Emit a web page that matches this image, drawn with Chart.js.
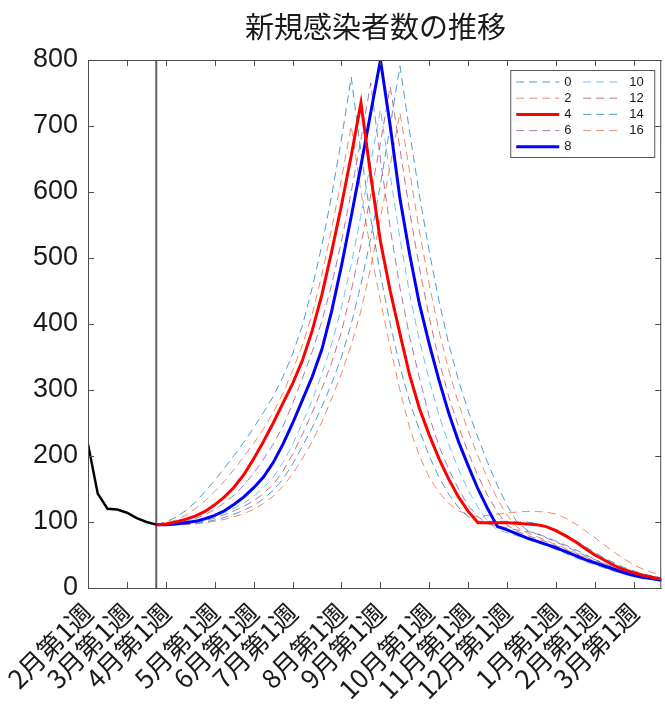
<!DOCTYPE html>
<html lang="ja">
<head>
    <meta charset="UTF-8">
    <title>新規感染者数の推移</title>
    <style>
        body { margin: 0; background: #fff; }
        canvas { display: block; }
    </style>
</head>
<body>
    <canvas id="trendChart" width="665" height="706"></canvas>

    <script src="https://cdn.jsdelivr.net/npm/chart.js"></script>
    <script>
        // ---- data (x = week index from 2月第1週) ----
        const titleText = '新規感染者数の推移';
        const tickWeeks = [0, 4, 8, 13, 17, 21, 26, 30, 35, 39, 43, 48, 52, 56];
        const tickLabels = ['2月第1週', '3月第1週', '4月第1週', '5月第1週', '6月第1週', '7月第1週',
            '8月第1週', '9月第1週', '10月第1週', '11月第1週', '12月第1週', '1月第1週', '2月第1週', '3月第1週'];
        const xMax = 58.8;
        const yMax = 800;

        // observed weeks 0..7
        const observed = [218, 143, 120, 119, 114, 106, 100, 96];
        const markerWeek = 7;

        // projections, weeks 7..59
        const projStart = 7;
        const proj0 = [96, 100, 107, 117, 130, 146, 163, 182, 201, 221, 243, 266, 290, 320, 355, 398, 455, 520, 595, 680, 774,
            660, 560, 475, 400, 335, 282, 239, 200, 168, 142, 122, 108, 101,
            101, 101, 101, 100, 100, 98, 94, 88, 81, 72, 63, 54, 45, 38, 31, 26, 21, 18, 15];
        const proj2 = [96, 98, 103, 110, 120, 132, 146, 162, 180, 199, 219, 241, 266, 295, 330, 368, 415, 475, 545, 620, 700,
            600, 510, 435, 365, 300, 242, 200, 168, 145, 128, 117, 111, 108,
            110, 112, 114, 115, 116, 116, 115, 112, 106, 97, 87, 76, 65, 54, 44, 35, 28, 23, 19];
        const proj4 = [96, 97, 100, 104, 109, 116, 126, 138, 153, 172, 196, 222, 250, 280, 310, 345, 390, 445, 510, 580, 655, 735,
            625, 525, 450, 385, 322, 272, 232, 196, 165, 138, 116, 99,
            99, 99, 99, 98, 97, 96, 93, 87, 79, 70, 60, 50, 42, 34, 28, 23, 19, 16, 13];
        const proj6 = [96, 96, 98, 101, 105, 111, 119, 129, 141, 156, 174, 195, 218, 245, 280, 318, 358, 405, 460, 525, 600, 680, 765,
            650, 545, 455, 380, 318, 260, 215, 180, 150, 125, 108, 97,
            94, 91, 88, 86, 83, 77, 71, 65, 58, 51, 43, 36, 30, 25, 20, 16, 13, 11];
        const proj8 = [96, 96, 97, 99, 101, 105, 110, 117, 127, 138, 152, 168, 190, 218, 250, 285, 320, 362, 420, 488, 563, 640, 720, 800,
            700, 590, 505, 430, 370, 315, 265, 222, 185, 150, 120, 93,
            88, 82, 76, 71, 66, 61, 55, 49, 43, 38, 33, 28, 23, 19, 16, 14, 11];
        const proj10 = [96, 96, 97, 98, 100, 103, 108, 114, 121, 129, 139, 152, 168, 190, 218, 250, 285, 325, 370, 425, 490, 565, 645, 725,
            625, 530, 445, 375, 315, 262, 218, 180, 148, 122, 101, 88,
            84, 79, 74, 69, 64, 58, 52, 46, 40, 35, 30, 25, 21, 17, 14, 12, 10];
        const proj12 = [96, 96, 96, 97, 99, 102, 106, 111, 117, 124, 132, 143, 157, 177, 203, 233, 266, 302, 342, 388, 450, 520, 595, 675, 760,
            665, 570, 485, 410, 345, 290, 245, 205, 170, 140, 115, 95,
            86, 80, 75, 70, 64, 58, 52, 46, 40, 35, 30, 25, 21, 17, 14, 12];
        const proj14 = [96, 96, 96, 97, 98, 100, 103, 107, 112, 118, 125, 135, 148, 165, 188, 215, 243, 275, 310, 350, 400, 460, 530, 612, 700, 791,
            690, 595, 510, 435, 370, 315, 268, 228, 190, 155, 125, 100,
            88, 82, 76, 70, 63, 56, 49, 43, 37, 31, 26, 22, 18, 15, 12];
        const proj16 = [96, 96, 96, 96, 97, 99, 101, 104, 108, 113, 119, 128, 139, 154, 173, 196, 222, 252, 287, 325, 368, 420, 485, 560, 640, 720,
            630, 540, 460, 390, 330, 280, 238, 200, 165, 135, 110, 92,
            84, 78, 72, 66, 60, 53, 47, 41, 35, 30, 25, 21, 17, 14, 12];

        const seriesLabels = ['0', '2', '4', '6', '8', '10', '12', '14', '16'];
        const seriesData = [proj0, proj2, proj4, proj6, proj8, proj10, proj12, proj14, proj16];

        // MATLAB-ish colour order; 4 and 8 are the highlighted solid lines
        const seriesStyle = {
            '0':  { color: 'rgba(0,114,189,0.7)',   width: 1, dash: [8, 5] },
            '2':  { color: 'rgba(217,83,25,0.65)',  width: 1, dash: [8, 5] },
            '4':  { color: '#ff0000',               width: 3, dash: [] },
            '6':  { color: 'rgba(126,47,142,0.65)', width: 1, dash: [8, 5] },
            '8':  { color: '#0000ff',               width: 3, dash: [] },
            '10': { color: 'rgba(77,190,238,0.85)', width: 1, dash: [8, 5] },
            '12': { color: 'rgba(162,20,47,0.6)',   width: 1, dash: [8, 5] },
            '14': { color: 'rgba(0,114,189,0.7)',   width: 1, dash: [8, 5] },
            '16': { color: 'rgba(217,83,25,0.65)',  width: 1, dash: [8, 5] }
        };

        function toPoints(values, start) {
            return values.map((v, i) => ({ x: start + i, y: v }));
        }

        const datasets = seriesLabels.map((lab, i) => {
            const st = seriesStyle[lab];
            return {
                label: lab,
                data: toPoints(seriesData[i], projStart),
                borderColor: st.color,
                borderWidth: st.width,
                borderDash: st.dash,
                order: st.dash.length ? 2 : 0
            };
        });
        datasets.push({
            label: 'observed',
            data: toPoints(observed, 0),
            borderColor: '#000',
            borderWidth: 2.5,
            order: 0
        });
        datasets.push({
            label: 'marker',
            data: [{ x: markerWeek, y: 0 }, { x: markerWeek, y: yMax }],
            borderColor: '#606060',
            borderWidth: 2,
            order: 3
        });

        const axisColor = '#4d4d4d';

        // box around the axes with inward tick marks, plus the title
        const framePlugin = {
            id: 'frame',
            afterDatasetsDraw(chart) {
                const { ctx, chartArea: a, scales } = chart;
                ctx.save();
                ctx.strokeStyle = axisColor;
                ctx.lineWidth = 1;
                ctx.beginPath();
                ctx.moveTo(a.left + 0.5, a.top + 0.5);
                ctx.lineTo(a.right + 0.5, a.top + 0.5);
                ctx.moveTo(a.left + 0.5, a.top);
                ctx.lineTo(a.left + 0.5, a.bottom + 0.5);
                ctx.lineTo(a.right + 0.5, a.bottom + 0.5);
                ctx.moveTo(a.right - 0.5, a.top);
                ctx.lineTo(a.right - 0.5, a.bottom);
                const tl = 6;
                tickWeeks.forEach(w => {
                    const px = Math.round(scales.x.getPixelForValue(w)) + 0.5;
                    ctx.moveTo(px, a.bottom);
                    ctx.lineTo(px, a.bottom - tl);
                    ctx.moveTo(px, a.top);
                    ctx.lineTo(px, a.top + tl);
                });
                for (let v = 0; v <= yMax; v += 100) {
                    const py = Math.round(scales.y.getPixelForValue(v)) + 0.5;
                    ctx.moveTo(a.left, py);
                    ctx.lineTo(a.left + tl, py);
                    ctx.moveTo(a.right, py);
                    ctx.lineTo(a.right - tl, py);
                }
                ctx.stroke();

                ctx.fillStyle = '#1a1a1a';
                ctx.font = '29px "Noto Sans CJK JP", sans-serif';
                ctx.textAlign = 'center';
                ctx.textBaseline = 'middle';
                ctx.fillText(titleText, (a.left + a.right) / 2 + 1, 27);
                ctx.restore();
            }
        };

        // two-column legend box in the upper right corner
        const legendPlugin = {
            id: 'boxLegend',
            afterDraw(chart) {
                const { ctx, chartArea: a } = chart;
                const bx = a.right - 151, by = a.top + 10, bw = 144, bh = 87;
                ctx.save();
                ctx.fillStyle = '#fff';
                ctx.fillRect(bx, by, bw, bh);
                ctx.strokeStyle = '#555';
                ctx.lineWidth = 1;
                ctx.strokeRect(bx + 0.5, by + 0.5, bw, bh);
                ctx.font = '13px "Liberation Sans", Arial, sans-serif';
                ctx.textBaseline = 'middle';
                ctx.textAlign = 'left';
                seriesLabels.forEach((lab, i) => {
                    const col = i < 5 ? 0 : 1;
                    const row = i < 5 ? i : i - 5;
                    const ly = by + 12 + row * 16.2;
                    const lx = bx + 6 + col * 67;
                    const len = col === 0 ? 43 : 36;
                    const st = seriesStyle[lab];
                    ctx.strokeStyle = st.color;
                    ctx.lineWidth = st.width;
                    ctx.setLineDash(st.dash);
                    ctx.beginPath();
                    ctx.moveTo(lx, ly);
                    ctx.lineTo(lx + len, ly);
                    ctx.stroke();
                    ctx.setLineDash([]);
                    ctx.fillStyle = '#1a1a1a';
                    ctx.fillText(lab, lx + (col === 0 ? 48 : 46), ly);
                });
                ctx.restore();
            }
        };

        const ctx = document.getElementById('trendChart').getContext('2d');
        const trendChart = new Chart(ctx, {
            type: 'line',
            data: { datasets: datasets },
            options: {
                responsive: false,
                animation: false,
                layout: { padding: { top: 60, right: 0, bottom: 0, left: 0 } },
                elements: {
                    point: { radius: 0 },
                    line: { tension: 0, fill: false }
                },
                plugins: {
                    legend: { display: false },
                    title: { display: false },
                    tooltip: { enabled: false }
                },
                scales: {
                    x: {
                        type: 'linear',
                        min: 0,
                        max: xMax,
                        afterBuildTicks: (scale) => {
                            scale.ticks = tickWeeks.map(v => ({ value: v }));
                        },
                        afterFit: (scale) => { scale.height = 118; },
                        grid: { display: false, drawTicks: false },
                        border: { display: false },
                        ticks: {
                            autoSkip: false,
                            minRotation: 45,
                            maxRotation: 45,
                            padding: 9,
                            color: '#1a1a1a',
                            font: { family: '"Noto Sans CJK JP", sans-serif', size: 26 },
                            callback: (v) => {
                                const i = tickWeeks.indexOf(v);
                                return i >= 0 ? tickLabels[i] : '';
                            }
                        }
                    },
                    y: {
                        min: 0,
                        max: yMax,
                        afterFit: (scale) => { scale.width = 88; },
                        grid: { display: false, drawTicks: false },
                        border: { display: false },
                        ticks: {
                            stepSize: 100,
                            padding: 10,
                            color: '#1a1a1a',
                            font: { family: '"Liberation Sans", Arial, sans-serif', size: 27 }
                        }
                    }
                }
            },
            plugins: [framePlugin, legendPlugin]
        });
    </script>
</body>
</html>
